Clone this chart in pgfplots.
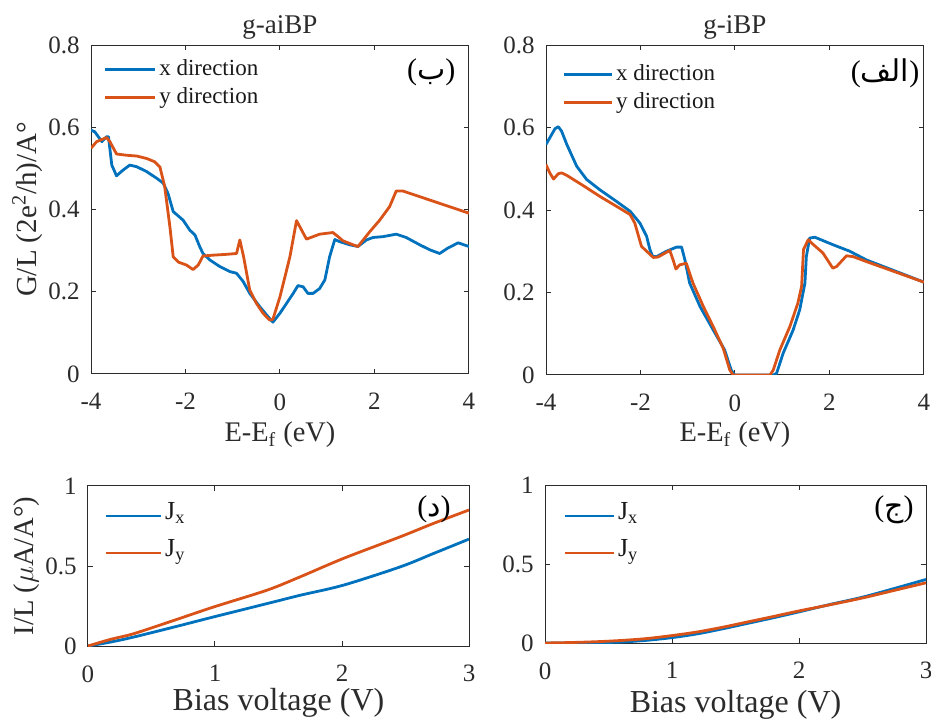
\documentclass[border=0pt]{standalone}
\usepackage{fontspec}
\setmainfont{Liberation Serif}
\newfontfamily\tnr{Liberation Serif}
\newfontfamily\arabicfont[Script=Arabic]{DejaVu Sans}
\usepackage{pgfplots}
\pgfplotsset{compat=1.18}
\TeXXeTstate=1
\definecolor{mblue}{rgb}{0,0.447,0.741}
\definecolor{mred}{rgb}{0.85,0.325,0.098}
\definecolor{axgray}{gray}{0.17}
\tikzset{lbl/.style={font=\tnr\fontsize{15}{18}\selectfont, text=black}}
\pgfplotsset{
  mat/.style={
    scale only axis,
    axis line style={draw=axgray, line width=0.5pt},
    tick style={draw=axgray, line width=0.5pt},
    major tick length=2.5pt,
    tick align=inside,
    xtick pos=both, ytick pos=both,
    /pgf/number format/assume math mode=true,
    tick label style={font=\tnr\fontsize{12.5}{14}\selectfont, text=axgray},
    xticklabel style={inner sep=0pt, yshift=-9.5pt},
    yticklabel style={inner sep=0pt, xshift=-5.5pt},
    label style={text=axgray},
    title style={font=\tnr\fontsize{13.5}{16}\selectfont, text=axgray, anchor=base, yshift=-6pt},
    legend style={draw=none, fill=none, anchor=north west, inner sep=0pt,
      font=\tnr\fontsize{11.5}{14}\selectfont, text=black!90,
      nodes={inner xsep=1.5pt, inner ysep=1pt, text height=9pt, text depth=3pt}},
    legend cell align=left,
    every axis plot/.append style={line width=1.4pt, line join=round},
  },
}
\begin{document}
\begin{tikzpicture}
\path[use as bounding box] (0pt,0pt) rectangle (465.5pt,359pt);
% ---------------- top left: g-aiBP
\begin{axis}[mat, at={(45.5pt,172pt)}, anchor=south west, width=189pt, height=164.5pt,
  xmin=-4, xmax=4, ymin=0, ymax=0.8,
  xtick={-4,-2,0,2,4}, ytick={0,0.2,0.4,0.6,0.8},
  title={g-aiBP}, title style={at={(axis description cs:0.5,1.0365)}},
  xlabel={E-E\textsubscript{f} (eV)},
  xlabel style={at={(axis description cs:0.5,-0.2067)}, anchor=base, font=\tnr\fontsize{14.2}{16}\selectfont},
  ylabel={G/L (2e\textsuperscript{2}/h)/A°},
  ylabel style={at={(axis description cs:-0.1455,0.5)}, anchor=base, font=\tnr\fontsize{14.5}{16}\selectfont},
  legend style={at={(axis description cs:0.032,0.970)}},
  legend image code/.code={\draw[#1] (0pt,0pt) -- (25pt,0pt);},
]
\addplot[mblue] coordinates {
(-4.00,0.593) (-3.92,0.589) (-3.77,0.565) (-3.67,0.577) (-3.63,0.577) (-3.56,0.508)
(-3.46,0.482) (-3.32,0.496) (-3.18,0.508) (-3.03,0.504) (-2.82,0.492) (-2.61,0.476)
(-2.47,0.464) (-2.37,0.439) (-2.26,0.395) (-2.05,0.374) (-1.91,0.350) (-1.80,0.338)
(-1.70,0.310) (-1.63,0.293) (-1.48,0.277) (-1.27,0.261) (-1.06,0.249) (-0.92,0.245)
(-0.78,0.225) (-0.64,0.196) (-0.43,0.164) (-0.25,0.139) (-0.15,0.126) (0.00,0.148)
(0.14,0.172) (0.28,0.196) (0.38,0.215) (0.49,0.212) (0.59,0.196) (0.70,0.196)
(0.84,0.208) (0.95,0.229) (1.05,0.285) (1.16,0.327) (1.26,0.322) (1.48,0.314)
(1.65,0.310) (1.83,0.326) (1.97,0.332) (2.18,0.334) (2.46,0.340) (2.67,0.332)
(2.96,0.314) (3.17,0.302) (3.38,0.293) (3.55,0.306) (3.77,0.319) (4.00,0.310)
};
\addlegendentry{x direction}
\addplot[mred] coordinates {
(-4.00,0.549) (-3.88,0.565) (-3.67,0.575) (-3.60,0.565) (-3.46,0.535) (-3.25,0.532)
(-3.03,0.530) (-2.82,0.524) (-2.65,0.516) (-2.54,0.503) (-2.44,0.456) (-2.33,0.358)
(-2.26,0.285) (-2.15,0.272) (-1.98,0.265) (-1.84,0.254) (-1.73,0.265) (-1.63,0.287)
(-1.41,0.289) (-1.13,0.291) (-0.92,0.293) (-0.85,0.326) (-0.77,0.285) (-0.64,0.204)
(-0.50,0.172) (-0.36,0.148) (-0.22,0.131) (-0.15,0.133) (0.00,0.188) (0.21,0.285)
(0.35,0.373) (0.42,0.358) (0.56,0.328) (0.84,0.340) (1.12,0.344) (1.23,0.334)
(1.33,0.324) (1.55,0.314) (1.65,0.310) (1.90,0.346) (2.11,0.374) (2.32,0.407)
(2.46,0.445) (2.60,0.445) (4.00,0.391)
};
\addlegendentry{y direction}
\node[lbl] at (rel axis cs:0.90,0.918) {({\arabicfont\beginR ب\endR})};
\end{axis}
% ---------------- top right: g-iBP
\begin{axis}[mat, at={(273pt,171.5pt)}, anchor=south west, width=189pt, height=165pt,
  xmin=-4, xmax=4, ymin=0, ymax=0.8,
  xtick={-4,-2,0,2,4}, ytick={0,0.2,0.4,0.6,0.8},
  title={g-iBP}, title style={at={(axis description cs:0.5,1.036)}},
  xlabel={E-E\textsubscript{f} (eV)},
  xlabel style={at={(axis description cs:0.5,-0.203)}, anchor=base, font=\tnr\fontsize{14.2}{16}\selectfont},
  legend style={at={(axis description cs:0.042,0.955)}},
  legend image code/.code={\draw[#1] (0pt,0pt) -- (24pt,0pt);},
]
\addplot[mblue] coordinates {
(-4.00,0.559) (-3.92,0.575) (-3.81,0.597) (-3.74,0.602) (-3.67,0.591) (-3.56,0.559)
(-3.35,0.506) (-3.14,0.474) (-2.86,0.449) (-2.51,0.421) (-2.22,0.397) (-2.01,0.368)
(-1.87,0.336) (-1.80,0.304) (-1.74,0.287) (-1.66,0.287) (-1.45,0.300) (-1.24,0.310)
(-1.13,0.310) (-1.06,0.279) (-0.96,0.223) (-0.74,0.166) (-0.46,0.109) (-0.22,0.061)
(-0.08,0.012) (-0.01,0.000) (0.81,0.000) (0.88,0.004) (1.02,0.053) (1.23,0.109)
(1.37,0.158) (1.48,0.223) (1.51,0.287) (1.58,0.332) (1.69,0.334) (2.07,0.316)
(2.43,0.300) (2.78,0.279) (4.00,0.225)
};
\addlegendentry{x direction}
\addplot[mred] coordinates {
(-4.00,0.510) (-3.92,0.490) (-3.84,0.475) (-3.74,0.488) (-3.67,0.490) (-3.56,0.484)
(-3.21,0.459) (-2.86,0.433) (-2.51,0.409) (-2.22,0.389) (-2.12,0.368) (-1.98,0.312)
(-1.87,0.300) (-1.73,0.285) (-1.63,0.286) (-1.38,0.302) (-1.31,0.279) (-1.25,0.257)
(-1.17,0.267) (-1.03,0.271) (-0.89,0.223) (-0.67,0.166) (-0.46,0.117) (-0.25,0.065)
(-0.11,0.012) (-0.04,0.000) (0.74,0.000) (0.81,0.012) (0.95,0.061) (1.16,0.117)
(1.33,0.174) (1.41,0.215) (1.45,0.304) (1.55,0.328) (1.62,0.320) (1.86,0.296)
(2.07,0.259) (2.15,0.263) (2.36,0.289) (2.50,0.287) (2.78,0.275) (4.00,0.225)
};
\addlegendentry{y direction}
\node[lbl] at (rel axis cs:0.897,0.915) {({\arabicfont\beginR الف\endR})};
\end{axis}
% ---------------- bottom left
\begin{axis}[mat, at={(44pt,36pt)}, anchor=south west, width=190.5pt, height=80pt,
  xmin=0, xmax=3, ymin=0, ymax=1,
  xtick={0,1,2,3}, ytick={0,0.5,1},
  xlabel={Bias voltage (V)},
  xlabel style={at={(axis description cs:0.5,-0.40)}, anchor=base, font=\tnr\fontsize{16}{18}\selectfont},
  ylabel={I/L ($\mu$A/A°)},
  ylabel style={at={(axis description cs:-0.144,0.5)}, anchor=base, font=\tnr\fontsize{14.3}{16}\selectfont},
  legend style={at={(axis description cs:0.042,0.931)}, font=\tnr\fontsize{13}{15}\selectfont,
    nodes={text height=10pt, text depth=6.5pt}},
  legend image code/.code={\draw[#1] (0pt,0pt) -- (27.5pt,0pt);},
]
\addplot[mblue, smooth] coordinates {
(0,0) (0.18,0.025) (0.36,0.056) (0.68,0.119) (0.99,0.182) (1.41,0.265) (1.67,0.317)
(2.01,0.380) (2.46,0.495) (2.72,0.578) (3,0.668)
};
\addlegendentry{J\textsubscript{x}}
\addplot[mred, smooth] coordinates {
(0,0) (0.18,0.042) (0.36,0.077) (0.68,0.161) (0.99,0.244) (1.41,0.349) (1.67,0.432)
(2.01,0.547) (2.46,0.683) (2.72,0.766) (3,0.85)
};
\addlegendentry{J\textsubscript{y}}
\node[lbl] at (rel axis cs:0.908,0.856) {({\arabicfont\beginR د\endR})};
\end{axis}
% ---------------- bottom right
\begin{axis}[mat, at={(272.5pt,37.5pt)}, anchor=south west, width=190.5pt, height=79pt,
  xmin=0, xmax=3, ymin=0, ymax=1,
  xtick={0,1,2,3}, ytick={0,0.5,1},
  xlabel={Bias voltage (V)},
  xlabel style={at={(axis description cs:0.5,-0.443)}, anchor=base, font=\tnr\fontsize{16}{18}\selectfont},
  legend style={at={(axis description cs:0.047,0.924)}, font=\tnr\fontsize{13}{15}\selectfont,
    nodes={text height=10pt, text depth=6.5pt}},
  legend image code/.code={\draw[#1] (0pt,0pt) -- (24.5pt,0pt);},
]
\addplot[mblue, smooth] coordinates {
(0,0) (0.2,0.0005) (0.4,0.002) (0.6,0.006) (0.8,0.017) (1.0,0.034) (1.2,0.058)
(1.4,0.090) (1.6,0.125) (1.8,0.160) (2.0,0.197) (2.25,0.245) (2.5,0.290) (2.75,0.345) (3,0.402)
};
\addlegendentry{J\textsubscript{x}}
\addplot[mred, smooth] coordinates {
(0,0) (0.2,0.003) (0.4,0.008) (0.6,0.016) (0.8,0.028) (1.0,0.047) (1.2,0.070)
(1.4,0.100) (1.6,0.134) (1.8,0.168) (2.0,0.203) (2.25,0.243) (2.5,0.285) (2.75,0.333) (3,0.381)
};
\addlegendentry{J\textsubscript{y}}
\node[lbl] at (rel axis cs:0.916,0.842) {({\arabicfont\beginR ج\endR})};
\end{axis}
\end{tikzpicture}
\end{document}
